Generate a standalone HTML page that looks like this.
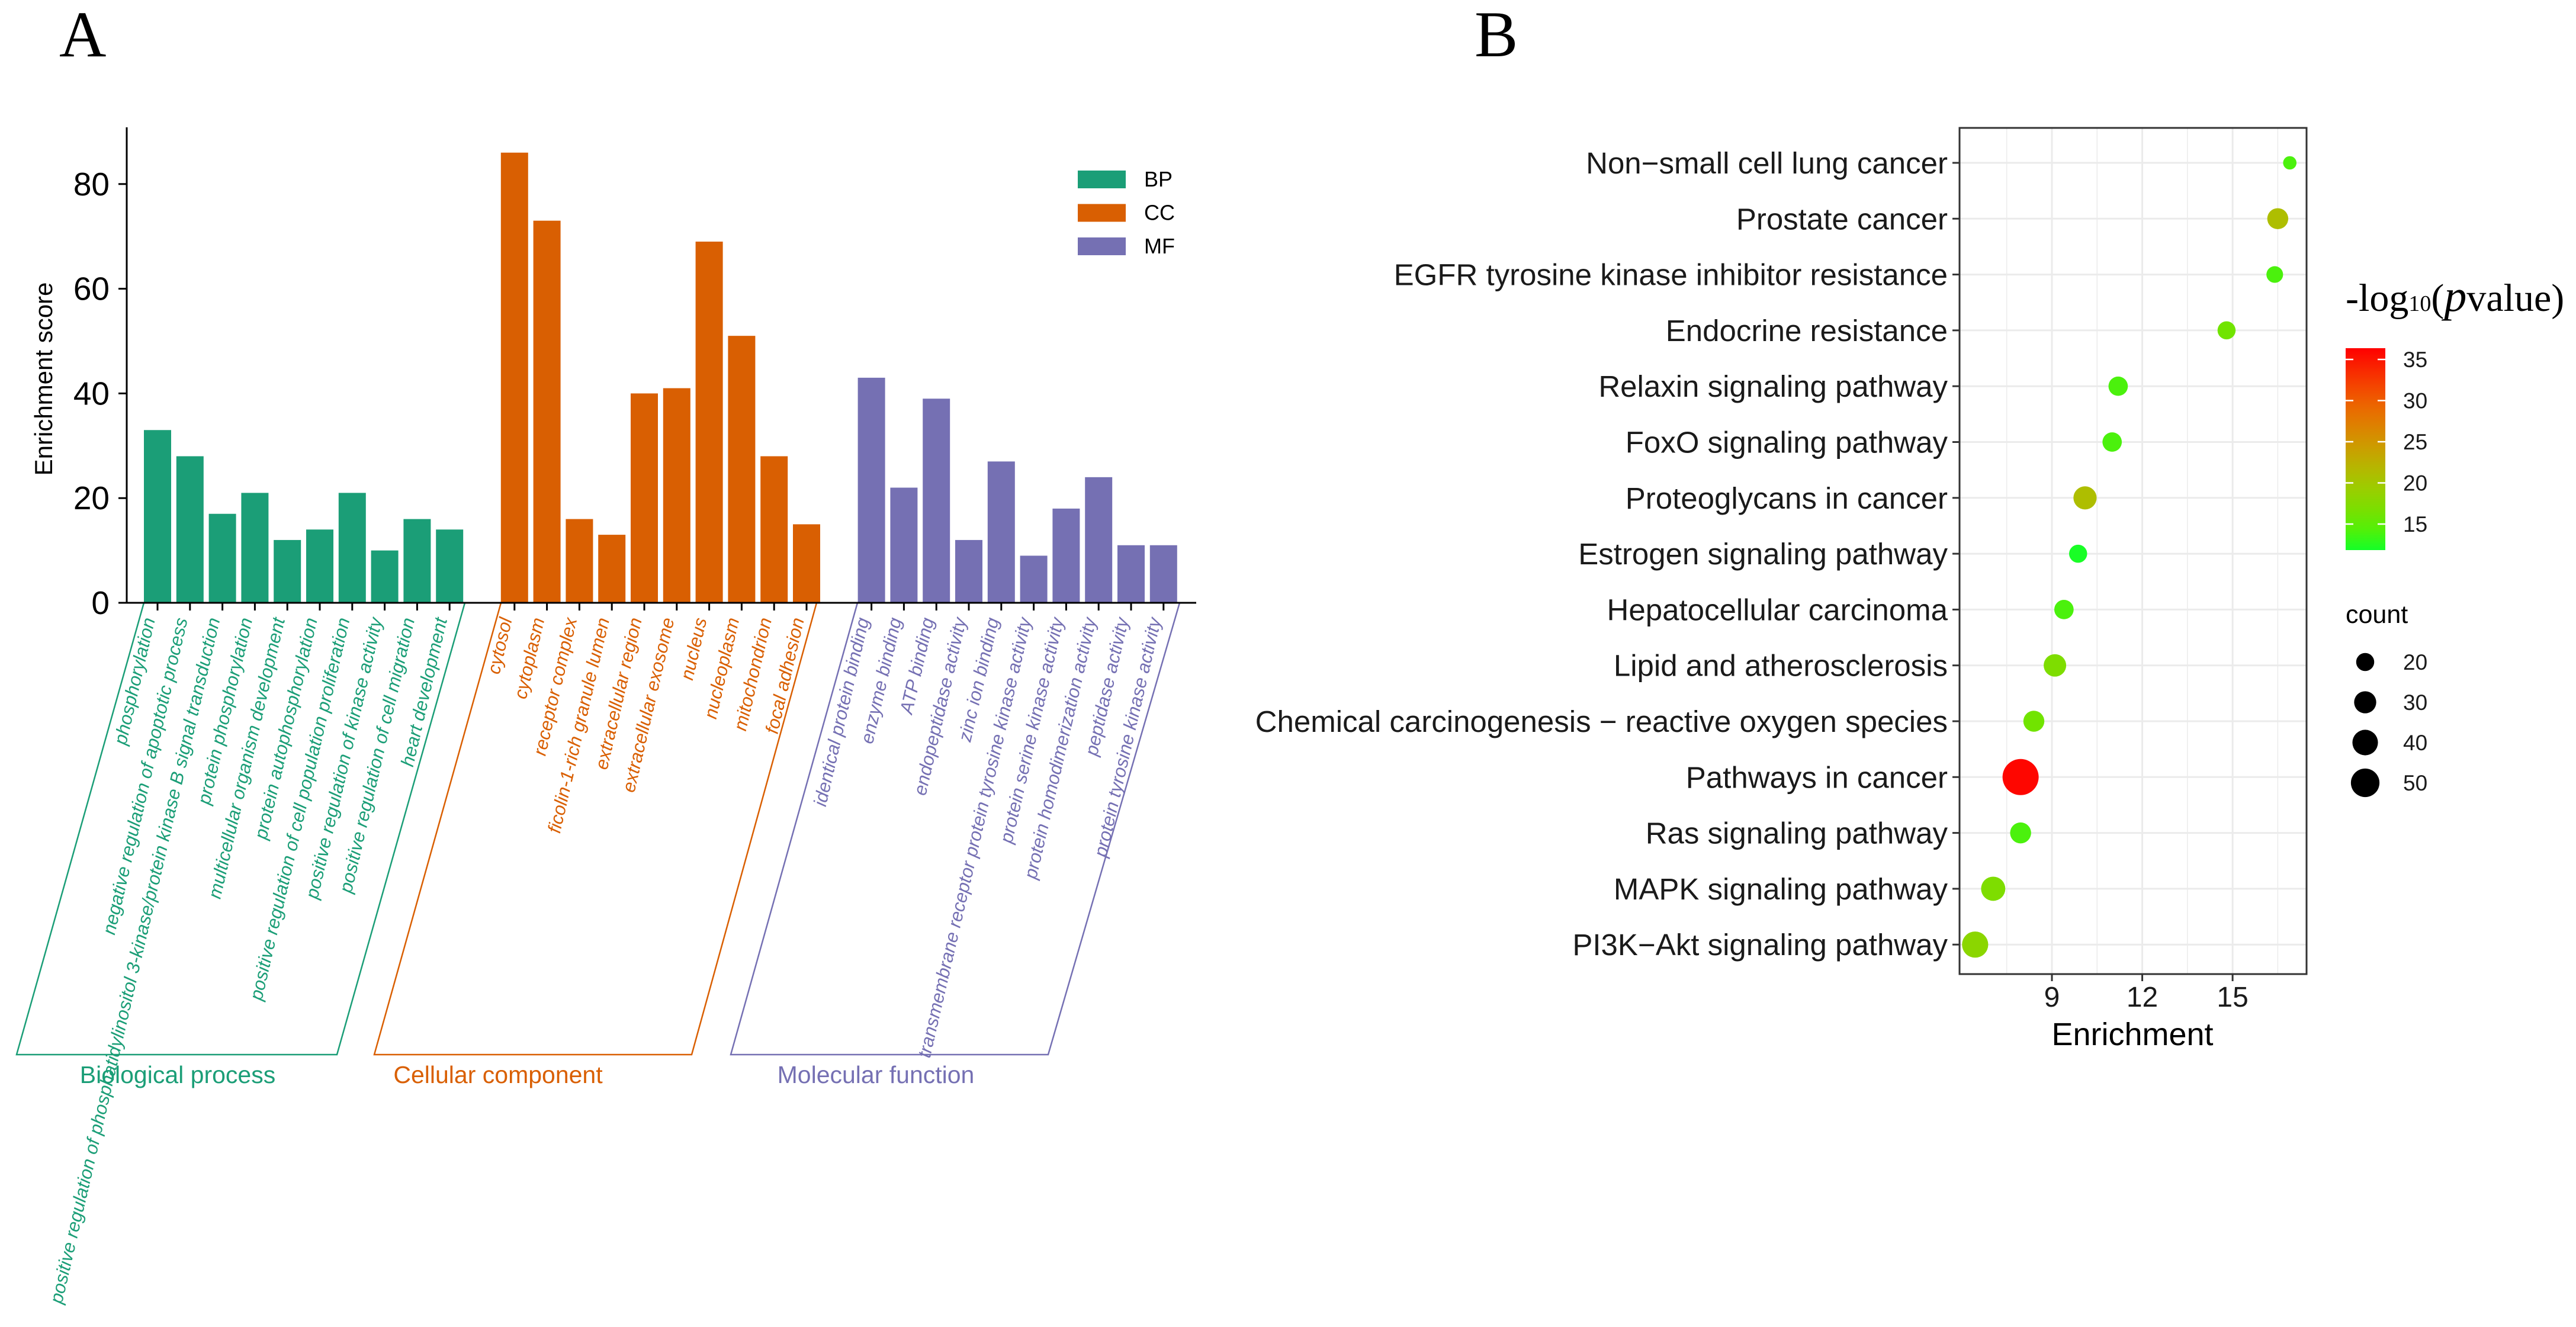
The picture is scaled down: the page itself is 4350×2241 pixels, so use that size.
<!DOCTYPE html>
<html><head><meta charset="utf-8"><style>
body{margin:0;background:#fff}
svg{display:block;font-family:"Liberation Sans",Arial,sans-serif}
</style></head><body>
<svg id="chart" width="4350" height="2241" viewBox="0 0 4350 2241" xmlns="http://www.w3.org/2000/svg">
<rect width="4350" height="2241" fill="#fff"/>
<text x="100" y="95" font-family="Liberation Serif,serif" font-size="110">A</text>
<text x="2490" y="95" font-family="Liberation Serif,serif" font-size="110">B</text>
<g id="pa"></g>
<g id="pb"></g>
</svg>
<script>
const bpTerms=["phosphorylation","negative regulation of apoptotic process","positive regulation of phosphatidylinositol 3-kinase/protein kinase B signal transduction","protein phosphorylation","multicellular organism development","protein autophosphorylation","positive regulation of cell population proliferation","positive regulation of kinase activity","positive regulation of cell migration","heart development"];
const bpValues=[33,28,17,21,12,14,21,10,16,14];
const ccTerms=["cytosol","cytoplasm","receptor complex","ficolin-1-rich granule lumen","extracellular region","extracellular exosome","nucleus","nucleoplasm","mitochondrion","focal adhesion"];
const ccValues=[86,73,16,13,40,41,69,51,28,15];
const mfTerms=["identical protein binding","enzyme binding","ATP binding","endopeptidase activity","zinc ion binding","transmembrane receptor protein tyrosine kinase activity","protein serine kinase activity","protein homodimerization activity","peptidase activity","protein tyrosine kinase activity"];
const mfValues=[43,22,39,12,27,9,18,24,11,11];
const yTicksA=[0,20,40,60,80];

const pathways=["Non\u2212small cell lung cancer","Prostate cancer","EGFR tyrosine kinase inhibitor resistance","Endocrine resistance","Relaxin signaling pathway","FoxO signaling pathway","Proteoglycans in cancer","Estrogen signaling pathway","Hepatocellular carcinoma","Lipid and atherosclerosis","Chemical carcinogenesis \u2212 reactive oxygen species","Pathways in cancer","Ras signaling pathway","MAPK signaling pathway","PI3K\u2212Akt signaling pathway"];
const enrichment=[16.9,16.5,16.4,14.8,11.2,11.0,10.1,9.87,9.4,9.1,8.4,7.96,7.96,7.05,6.45];
const logP=[14,21,14,16,14,14,21,12,14,17,16,36,14,17,18];
const counts=[11,27,17,20,23,23,33,20,23,31,27,80,27,36,42];
const xTicksB=[9,12,15];
const colorTicks=[15,20,25,30,35];
const sizeTicks=[20,30,40,50];

const NS="http://www.w3.org/2000/svg";
function mk(p,tag,attrs,txt){const e=document.createElementNS(NS,tag);for(const k in attrs)e.setAttribute(k,attrs[k]);if(txt!==undefined)e.textContent=txt;p.appendChild(e);return e;}

// ---- Panel A
const A=document.getElementById('pa');
const y0=1018,pxU=8.84,axX=214;
const yA=v=>y0-v*pxU;
const xSlot=s=>266+s*54.8;
const yBot=1781;
const groups=[{terms:bpTerms,vals:bpValues,start:0,col:"#1b9e77",key:"BP",name:"Biological process",box:[243,28,569,785],lx:300},
{terms:ccTerms,vals:ccValues,start:11,col:"#d95f02",key:"CC",name:"Cellular component",box:[846,632,1168,1379],lx:841},
{terms:mfTerms,vals:mfValues,start:22,col:"#7570b3",key:"MF",name:"Molecular function",box:[1448,1234,1770,1992],lx:1479}];
groups.forEach(g=>{
  g.vals.forEach((v,i)=>{
    const cx=xSlot(g.start+i);
    const r=mk(A,'rect',{x:cx-23,y:yA(v),width:46,height:y0-yA(v),fill:g.col});
    
    
    const t=mk(A,'line',{x1:cx,x2:cx,y1:y0,y2:y0+13,stroke:'#000','stroke-width':3});
    
    
    const lb=mk(A,'text',{x:cx-4,y:y0+28,'text-anchor':'end',transform:`rotate(-77 ${cx-4} ${y0+28})`,'font-size':31,'font-style':'italic',fill:g.col},g.terms[i]);
    
    
  });
  const b=g.box;
  const p=mk(A,'polygon',{points:`${b[0]},${y0} ${b[1]},${yBot} ${b[2]},${yBot} ${b[3]},${y0}`,fill:'none',stroke:g.col,'stroke-width':2.5});
  
  
  const gl=mk(A,'text',{x:g.lx,y:1829,'text-anchor':'middle','font-size':41,fill:g.col},g.name);
  
  
});
const ax=mk(A,'line',{x1:axX,x2:axX,y1:215,y2:y0,stroke:'#000','stroke-width':3});


const xax=mk(A,'line',{x1:axX-14,x2:2020,y1:y0,y2:y0,stroke:'#000','stroke-width':3});


yTicksA.forEach(v=>{
  const l=mk(A,'line',{x1:axX-14,x2:axX,y1:yA(v),y2:yA(v),stroke:'#000','stroke-width':3});
  
  
  const t=mk(A,'text',{x:185,y:yA(v)+19,'text-anchor':'end','font-size':55},v);
  
  
});
const yt=mk(A,'text',{x:88,y:640,'text-anchor':'middle','font-size':42,transform:'rotate(-90 88 640)'},'Enrichment score');


groups.forEach((g,i)=>{
  const yy=288+i*56.5;
  const s=mk(A,'rect',{x:1820,y:yy,width:81,height:30,fill:g.col});
  
  
  const t=mk(A,'text',{x:1932,y:yy+27,'font-size':36},g.key);
  
  
});

// ---- Panel B
const B=document.getElementById('pb');
const bx0=3309,bx1=3895,by0=216,by1=1645;
const xB=v=>3465+(v-9)*50.85;
const yB=i=>275+i*94.3;
const rB=c=>Math.sqrt(c)*3.41;
function colB(v){
  const stops=[[11.8,[20,255,40]],[15,[100,235,0]],[20,[165,200,0]],[25,[210,150,0]],[30,[240,95,0]],[36.4,[255,0,0]]];
  if(v<=stops[0][0])return `rgb(${stops[0][1]})`;
  for(let i=1;i<stops.length;i++){if(v<=stops[i][0]){const a=stops[i-1],b=stops[i],t=(v-a[0])/(b[0]-a[0]);return 'rgb('+a[1].map((c,k)=>Math.round(c+(b[1][k]-c)*t)).join(',')+')';}}
  return 'rgb(255,0,0)';
}
for(let v=7.5;v<=16.6;v+=1.5){
  const g=mk(B,'line',{x1:xB(v),x2:xB(v),y1:by0,y2:by1,stroke:'#ebebeb','stroke-width':(v%3===0)?3:1.5});
  
  
}
pathways.forEach((p,i)=>{
  const g=mk(B,'line',{x1:bx0,x2:bx1,y1:yB(i),y2:yB(i),stroke:'#ebebeb','stroke-width':3});
  
  
  const tk=mk(B,'line',{x1:bx0-12,x2:bx0,y1:yB(i),y2:yB(i),stroke:'#333','stroke-width':3});
  
  
  const t=mk(B,'text',{x:bx0-20,y:yB(i)+18,'text-anchor':'end','font-size':51,fill:'#1a1a1a'},p);
  
  
});
pathways.forEach((p,i)=>{
  const c=mk(B,'circle',{cx:xB(enrichment[i]),cy:yB(i),r:rB(counts[i]),fill:colB(logP[i])});
  
  
});
const frame=mk(B,'rect',{x:bx0,y:by0,width:bx1-bx0,height:by1-by0,fill:'none',stroke:'#333','stroke-width':3});


xTicksB.forEach(v=>{
  const l=mk(B,'line',{x1:xB(v),x2:xB(v),y1:by1,y2:by1+12,stroke:'#333','stroke-width':3});
  
  
  const t=mk(B,'text',{x:xB(v),y:1700,'text-anchor':'middle','font-size':48,fill:'#1a1a1a'},v);
  
  
});
const xt=mk(B,'text',{x:3601,y:1765,'text-anchor':'middle','font-size':54},'Enrichment');


const lt=mk(B,'text',{x:3961,y:525,'font-family':'Liberation Serif,serif','font-size':66},'');


mk(lt,'tspan',{},'-log');
mk(lt,'tspan',{'font-size':38},'10');
mk(lt,'tspan',{},'(');
mk(lt,'tspan',{'font-style':'italic','font-size':76},'p');
mk(lt,'tspan',{},'value)');
const defs=mk(B,'defs',{});
const grad=mk(defs,'linearGradient',{id:'cg',x1:0,y1:1,x2:0,y2:0});
for(let k=0;k<=10;k++){const v=11.8+(36.4-11.8)*k/10;mk(grad,'stop',{offset:k/10,'stop-color':colB(v)});}
const cb=mk(B,'rect',{x:3961,y:588,width:67,height:341,fill:'url(#cg)'});


const yC=v=>885-(v-15)*13.9;
colorTicks.forEach(v=>{
  const l=mk(B,'line',{x1:3961,x2:3974,y1:yC(v),y2:yC(v),stroke:'#fff','stroke-width':2.5});
  
  
  const l2=mk(B,'line',{x1:4015,x2:4028,y1:yC(v),y2:yC(v),stroke:'#fff','stroke-width':2.5});
  
  
  const t=mk(B,'text',{x:4058,y:yC(v)+13,'font-size':37,fill:'#1a1a1a'},v);
  
  
});
const ct=mk(B,'text',{x:3961,y:1052,'font-size':43},'count');


sizeTicks.forEach((v,i)=>{
  const yy=1118+i*68;
  const c=mk(B,'circle',{cx:3994,cy:yy,r:rB(v),fill:'#000'});
  
  
  const t=mk(B,'text',{x:4058,y:yy+13,'font-size':37,fill:'#1a1a1a'},v);
  
  
});
</script>
</body></html>
